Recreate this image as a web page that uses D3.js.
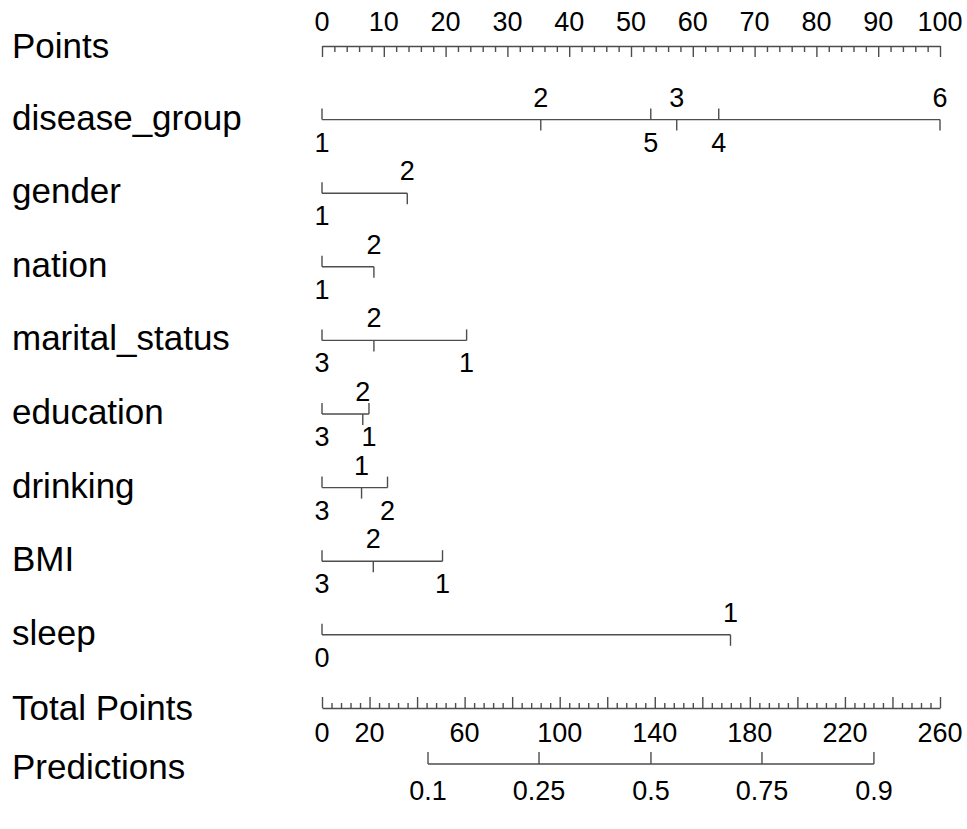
<!DOCTYPE html>
<html>
<head>
<meta charset="utf-8">
<script src="https://cdn.jsdelivr.net/npm/d3@7"></script>
<style>
  html, body { margin: 0; padding: 0; background: #fff; }
  svg { display: block; font-family: "Liberation Sans", Arial, Helvetica, sans-serif; }
</style>
</head>
<body>
<svg id="chart" width="967" height="829"></svg>
<script>
// ---- data ----
const pointsTickLabels = [0, 10, 20, 30, 40, 50, 60, 70, 80, 90, 100];

const variableNames = ["disease_group", "gender", "nation", "marital_status", "education", "drinking", "BMI", "sleep"];

const diseaseGroupLevels = ["1", "2", "3", "4", "5", "6"];
const diseaseGroupPoints = [0, 35.4, 57.4, 64.2, 53.2, 100];

const genderLevels = ["1", "2"];
const genderPoints = [0, 13.8];

const nationLevels = ["1", "2"];
const nationPoints = [0, 8.4];

const maritalLevels = ["1", "2", "3"];
const maritalPoints = [23.4, 8.4, 0];

const educationLevels = ["1", "2", "3"];
const educationPoints = [7.6, 6.6, 0];

const drinkingLevels = ["1", "2", "3"];
const drinkingPoints = [6.4, 10.6, 0];

const bmiLevels = ["1", "2", "3"];
const bmiPoints = [19.5, 8.3, 0];

const sleepLevels = ["0", "1"];
const sleepPoints = [0, 66.1];

const totalPointsTickLabels = [0, 20, 60, 100, 140, 180, 220, 260];
const totalPointsMax = 260;

const predictionLabels = ["0.1", "0.25", "0.5", "0.75", "0.9"];
const predictionTotalPoints = [44.6, 91.3, 138.4, 185.1, 232.2];

// ---- layout ----
const svg = d3.select("#chart");
const x0 = 322, x1 = 940;
const xPts = d3.scaleLinear().domain([0, 100]).range([x0, x1]);
const xTot = d3.scaleLinear().domain([0, totalPointsMax]).range([x0, x1]);

const lineColor = "#4d4d4d";
const lineW = 1.4;
const rowFont = 35;
const tickFont = 27;
const rowStep = 73.6;
const firstRowY = 46;

function rowLabel(text, y) {
  svg.append("text")
    .attr("x", 12).attr("y", y + 12)
    .attr("font-size", rowFont)
    .attr("fill", "#000")
    .text(text);
}

function numText(g, cls, data, xf, y, tf) {
  g.selectAll("text." + cls).data(data).enter().append("text")
    .attr("class", cls)
    .attr("x", xf).attr("y", y)
    .attr("text-anchor", "middle")
    .attr("font-size", tickFont)
    .attr("font-family", '"Liberation Sans", Arial, Helvetica, sans-serif')
    .attr("fill", "#000")
    .attr("stroke", "none")
    .text(tf);
}

// Points axis
{
  const y = firstRowY;
  rowLabel("Points", y);
  const g = svg.append("g").attr("transform", `translate(0,${y})`);
  const axis = d3.axisBottom(xPts)
    .tickValues(d3.range(0, 101, 2))
    .tickSizeOuter(0)
    .tickFormat("");
  g.call(axis);
  g.select(".domain").attr("stroke", lineColor).attr("stroke-width", lineW);
  g.selectAll(".tick line")
    .attr("stroke", lineColor).attr("stroke-width", lineW)
    .attr("y2", d => (d % 10 === 0 ? 11 : 6));
  g.selectAll(".tick text").remove();
  numText(g, "lab", pointsTickLabels, d => xPts(d), -15, d => d);
}

// Variable rows
const rows = [
  [diseaseGroupLevels, diseaseGroupPoints],
  [genderLevels, genderPoints],
  [nationLevels, nationPoints],
  [maritalLevels, maritalPoints],
  [educationLevels, educationPoints],
  [drinkingLevels, drinkingPoints],
  [bmiLevels, bmiPoints],
  [sleepLevels, sleepPoints]
];

rows.forEach(([levels, pts], i) => {
  const y = firstRowY + rowStep * (i + 1);
  rowLabel(variableNames[i], y - 2);
  const items = levels.map((l, k) => ({ label: l, p: pts[k] }))
    .sort((a, b) => a.p - b.p);
  items.forEach((d, k) => { d.above = (k % 2 === 1); });
  const g = svg.append("g").attr("transform", `translate(0,${y})`);
  const ext = d3.extent(items, d => d.p);
  g.append("line")
    .attr("x1", xPts(ext[0])).attr("x2", xPts(ext[1]))
    .attr("y1", 0).attr("y2", 0)
    .attr("stroke", lineColor).attr("stroke-width", lineW);
  g.selectAll("line.tk").data(items).enter().append("line")
    .attr("class", "tk")
    .attr("x1", d => xPts(d.p)).attr("x2", d => xPts(d.p))
    .attr("y1", 0).attr("y2", d => (d.above ? 11 : -11))
    .attr("stroke", lineColor).attr("stroke-width", lineW);
  numText(g, "lv", items, d => xPts(d.p), d => (d.above ? -13 : 32), d => d.label);
});

// Total Points axis
{
  const y = 708;
  rowLabel("Total Points", y);
  const g = svg.append("g").attr("transform", `translate(0,${y})`);
  const axis = d3.axisTop(xTot)
    .tickValues(d3.range(0, totalPointsMax + 1, 4))
    .tickSizeOuter(0)
    .tickFormat("");
  g.call(axis);
  g.select(".domain").attr("stroke", lineColor).attr("stroke-width", lineW);
  g.selectAll(".tick line")
    .attr("stroke", lineColor).attr("stroke-width", lineW)
    .attr("y2", d => (d % 20 === 0 ? -11 : -5));
  g.selectAll(".tick text").remove();
  numText(g, "lab", totalPointsTickLabels, d => xTot(d), 34, d => d);
}

// Predictions axis
{
  const y = 764;
  rowLabel("Predictions", y + 3);
  const g = svg.append("g").attr("transform", `translate(0,${y})`);
  const ext = d3.extent(predictionTotalPoints);
  g.append("line")
    .attr("x1", xTot(ext[0])).attr("x2", xTot(ext[1]))
    .attr("y1", 0).attr("y2", 0)
    .attr("stroke", lineColor).attr("stroke-width", lineW);
  g.selectAll("line.tk").data(predictionTotalPoints).enter().append("line")
    .attr("class", "tk")
    .attr("x1", d => xTot(d)).attr("x2", d => xTot(d))
    .attr("y1", 0).attr("y2", -12)
    .attr("stroke", lineColor).attr("stroke-width", lineW);
  numText(g, "lab", predictionTotalPoints, d => xTot(d), 36, (d, k) => predictionLabels[k]);
}
</script>
</body>
</html>
